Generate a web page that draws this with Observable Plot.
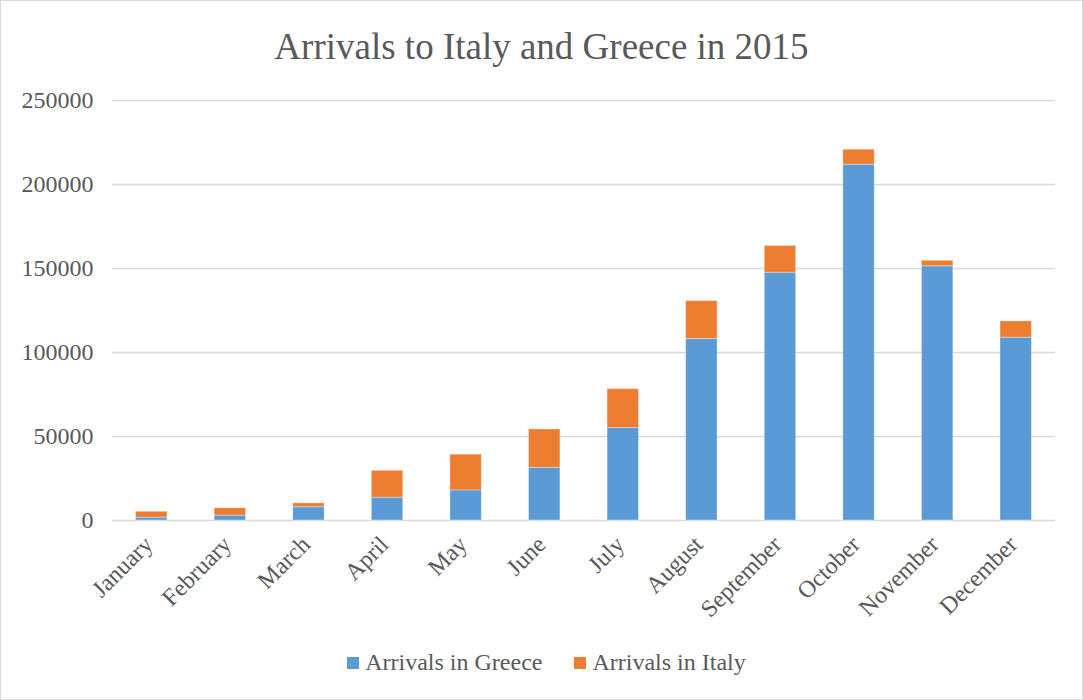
<!DOCTYPE html>
<html>
<head>
<meta charset="utf-8">
<script src="https://cdn.jsdelivr.net/npm/d3@7"></script>
<script src="https://cdn.jsdelivr.net/npm/@observablehq/plot@0.6"></script>
<style>
  html, body { margin: 0; padding: 0; background: #fff; }
  #frame {
    width: 1083px; height: 700px; box-sizing: border-box;
    border: 1px solid #d9d9d9; position: relative; overflow: hidden;
    font-family: "Liberation Serif", "Times New Roman", serif; color: #595959;
  }
  #title { height: 70px; box-sizing: border-box; padding-top: 22px; line-height: 48px;
    text-align: center; font-size: 37px; }
  #legend { box-sizing: border-box; padding-top: 18px; padding-left: 10px; line-height: 26px; text-align: center; font-size: 24px; }
  .sw { display: inline-block; width: 12px; height: 12px; margin-right: 6px; vertical-align: 1px; }
  .item { display: inline-block; margin: 0 16px; }
</style>
</head>
<body>
<div id="frame">
  <div id="title">Arrivals to Italy and Greece in 2015</div>
  <div id="chart"></div>
  <div id="legend"></div>
</div>
<script>
const months = ["January","February","March","April","May","June","July","August","September","October","November","December"];
const greece = [1700, 2900, 7900, 13600, 17900, 31300, 55000, 108000, 147500, 211800, 151300, 108800];
const italy  = [3500, 4400, 2300, 16000, 21300, 22900, 23200, 22600, 15900, 8900, 3300, 9700];
const seriesNames = ["Arrivals in Greece", "Arrivals in Italy"];
const seriesColors = ["#5b9bd5", "#ed7d31"];
const yTicks = [0, 50000, 100000, 150000, 200000, 250000];

const rows = [];
months.forEach((m, i) => {
  rows.push({month: m, series: seriesNames[0], value: greece[i]});
  rows.push({month: m, series: seriesNames[1], value: italy[i]});
});

const chart = Plot.plot({
  width: 1081,
  height: 560,
  marginTop: 29,
  marginBottom: 111,
  marginLeft: 111,
  marginRight: 27,
  style: {fontFamily: "'Liberation Serif', 'Times New Roman', serif", fontSize: "24px", color: "#595959", background: "transparent"},
  x: {domain: months, paddingInner: 0.6, paddingOuter: 0.3, round: false},
  y: {domain: [0, 250000]},
  color: {domain: seriesNames, range: seriesColors},
  marks: [
    Plot.ruleY(yTicks, {stroke: "#d9d9d9", strokeWidth: 1.3}),
    Plot.barY(rows, {x: "month", y: "value", fill: "series", order: seriesNames, stroke: "#ffffff", strokeOpacity: 0.35, strokeWidth: 1}),
    Plot.axisY({ticks: yTicks, label: null, tickSize: 0, tickPadding: 19, tickFormat: d => String(d)}),
    Plot.axisX({label: null, tickSize: 0, tickRotate: -45, tickPadding: 8, dx: -3, dy: 12})
  ]
});
document.getElementById("chart").appendChild(chart);

const legend = document.getElementById("legend");
seriesNames.forEach((n, i) => {
  const s = document.createElement("span");
  s.className = "item";
  s.innerHTML = `<span class="sw" style="background:${seriesColors[i]}"></span>${n}`;
  legend.appendChild(s);
});
</script>
</body>
</html>
